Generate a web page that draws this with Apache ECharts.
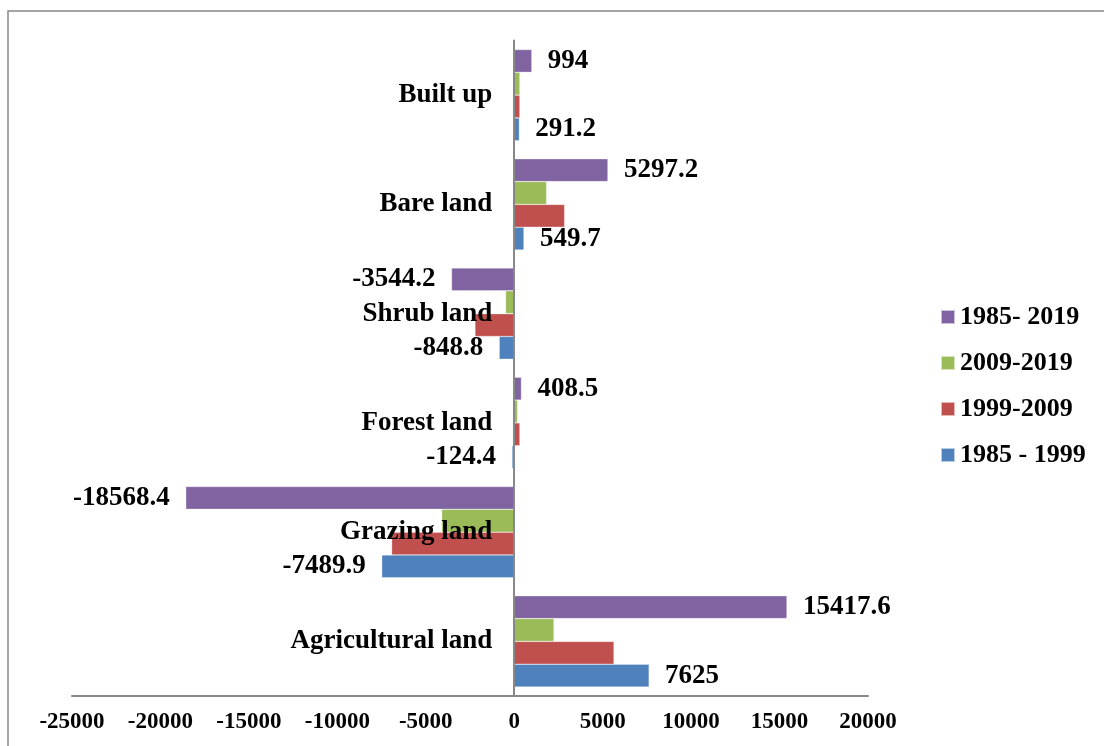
<!DOCTYPE html>
<html>
<head>
<meta charset="utf-8">
<script src="https://cdn.jsdelivr.net/npm/echarts@6/dist/echarts.min.js"></script>
<style>
  html, body { margin: 0; padding: 0; background: #fff; }
  #chart { width: 1104px; height: 746px; }
</style>
</head>
<body>
<div id="chart"></div>
<script>
// land use categories, bottom to top
var categories = ['Agricultural land', 'Grazing land', 'Forest land', 'Shrub land', 'Bare land', 'Built up'];
var seriesNames = ['1985- 2019', '2009-2019', '1999-2009', '1985 - 1999'];

// change per period
var change1985to2019 = [15417.6, -18568.4, 408.5, -3544.2, 5297.2, 994];
var change2009to2019 = [2245, -4100, 190, -490, 1830, 320];
var change1999to2009 = [5640, -6930, 320, -2220, 2850, 320];
var change1985to1999 = [7625, -7489.9, -124.4, -848.8, 549.7, 291.2];

var xTicks = { min: -25000, max: 20000, interval: 5000 };

var colors = ['#8064A2', '#9BBB59', '#C0504D', '#4F81BD'];
var fontFam = '"Liberation Serif", "Times New Roman", serif';

var gridLeft = 72, gridRight = 236;
var gridWidth = 1104 - gridLeft - gridRight;
// shift the category axis onto x = 0
var yAxisOffset = -gridWidth * (0 - xTicks.min) / (xTicks.max - xTicks.min);

function withLabels(values) {
    return values.map(function (v) {
        return { value: v, label: { show: true, position: v >= 0 ? 'right' : 'left' } };
    });
}

var chart = echarts.init(document.getElementById('chart'));

var labelStyle = {
    show: true,
    distance: 16,
    color: '#000',
    fontFamily: fontFam,
    fontWeight: 'bold',
    fontSize: 27
};

function barSeries(name, data, color, showLabel) {
    return {
        name: name,
        type: 'bar',
        barGap: 0,
        barCategoryGap: '16.5%',
        itemStyle: { color: color, borderColor: 'rgba(255,255,255,0.6)', borderWidth: 0.5 },
        label: showLabel ? labelStyle : { show: false },
        data: showLabel ? withLabels(data) : data
    };
}

var option = {
    animation: false,
    backgroundColor: '#fff',
    graphic: [{
        type: 'rect',
        shape: { x: 8, y: 11, width: 1200, height: 800 },
        style: { fill: 'none', stroke: '#888', lineWidth: 1.5 },
        silent: true
    }],
    grid: { left: gridLeft, right: gridRight, top: 40.5, bottom: 50, containLabel: false, outerBoundsMode: 'none' },
    legend: {
        orient: 'vertical',
        left: 935,
        top: 299,
        icon: 'rect',
        itemWidth: 14,
        itemHeight: 14,
        itemGap: 20,
        data: seriesNames,
        textStyle: { color: '#000', fontFamily: fontFam, fontWeight: 'bold', fontSize: 26 }
    },
    xAxis: {
        type: 'value',
        min: xTicks.min,
        max: xTicks.max,
        interval: xTicks.interval,
        axisLine: { show: true, onZero: false, lineStyle: { color: '#888', width: 2 } },
        axisTick: { show: false },
        splitLine: { show: false },
        axisLabel: {
            color: '#000', fontFamily: fontFam, fontWeight: 'bold', fontSize: 23, margin: 15,
            formatter: function (v) { return String(v); }
        }
    },
    yAxis: {
        type: 'category',
        data: categories,
        z: 10,
        offset: yAxisOffset,
        axisLine: { show: true, onZero: false, lineStyle: { color: '#888', width: 2 } },
        axisTick: { show: false },
        axisLabel: { color: '#000', fontFamily: fontFam, fontWeight: 'bold', fontSize: 27, margin: 22 }
    },
    series: [
        barSeries(seriesNames[0], change1985to2019, colors[0], true),
        barSeries(seriesNames[1], change2009to2019, colors[1], false),
        barSeries(seriesNames[2], change1999to2009, colors[2], false),
        barSeries(seriesNames[3], change1985to1999, colors[3], true)
    ]
};

chart.setOption(option);
window.onresize = function () { chart.resize(); };
</script>
</body>
</html>
